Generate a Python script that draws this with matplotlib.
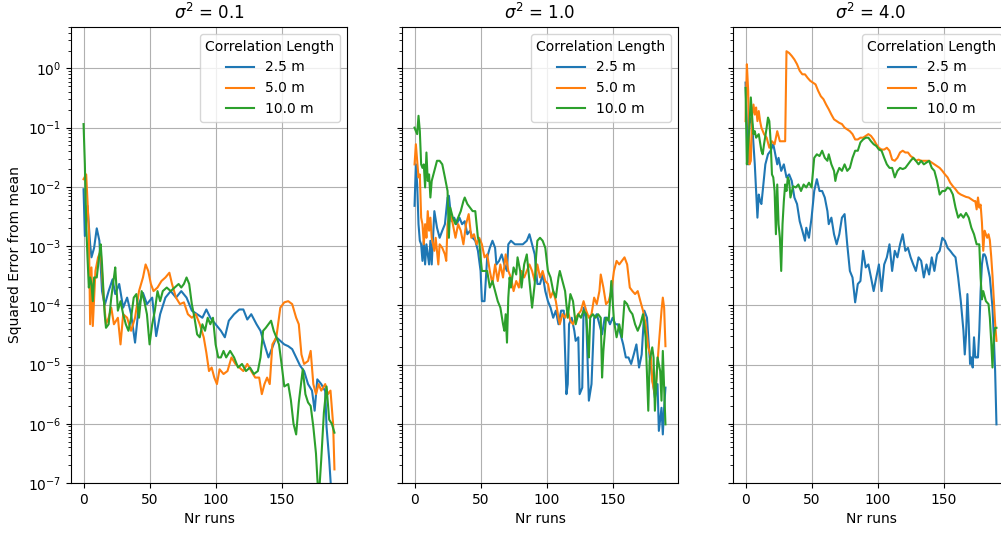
import numpy as np
import matplotlib
matplotlib.use("Agg")
import matplotlib.pyplot as plt
from matplotlib.ticker import LogLocator

# values, stored as log10(squared error)
variances = ["0.1", "1.0", "4.0"]
corr_lengths = ["2.5 m", "5.0 m", "10.0 m"]

# sigma^2 = 0.1
p1_blue_runs = [0, 1, 3, 5, 6, 8, 10, 12, 14, 16, 19, 22, 24, 27, 30, 33, 36, 39, 42, 45,
                48, 52, 55, 58, 62, 66, 70, 74, 78, 82, 86, 90, 93, 96, 100, 104, 107, 110, 114, 118,
                121, 124, 127, 131, 134, 137, 140, 143, 146, 149, 152, 155, 158, 161, 164, 167, 170, 173, 175, 177,
                180, 183, 184, 186, 188]
p1_blue_log = [-2.04, -2.83, -2.32, -2.97, -3.19, -3.03, -2.70, -2.91, -3.76, -4.0,
               -3.76, -3.56, -3.81, -3.64, -4.04, -3.87, -4.15, -4.63, -3.98, -3.79,
               -3.98, -3.87, -4.52, -4.15, -3.87, -3.76, -3.87, -3.76, -3.87, -4.09,
               -4.15, -4.21, -4.07, -4.21, -4.32, -4.43, -4.54, -4.26, -4.15, -4.07,
               -4.07, -4.24, -4.15, -4.32, -4.43, -4.66, -4.88, -4.71, -4.54, -4.60,
               -4.66, -4.69, -4.74, -4.88, -5.02, -5.11, -5.33, -5.44, -5.78, -5.25,
               -5.33, -5.45, -6.05, -6.6, -7.3]
p1_orange_runs = [0, 2, 3, 4, 5, 6, 7, 9, 11, 13, 15, 17, 19, 21, 23, 26, 28, 30, 33, 36,
                  39, 42, 45, 47, 49, 51, 53, 56, 59, 62, 65, 67, 70, 73, 76, 79, 82, 85, 88, 91,
                  93, 95, 97, 99, 101, 103, 106, 109, 112, 115, 118, 121, 124, 127, 130, 133, 135, 137, 139, 141,
                  143, 146, 149, 152, 155, 158, 161, 163, 165, 167, 170, 172, 174, 176, 178, 180, 183, 185, 187, 189,
                  190]
p1_orange_log = [-1.87, -1.79, -2.24, -2.74, -4.32, -3.36, -4.35, -3.42, -3.19, -3.08,
                 -3.81, -4.32, -4.21, -4.04, -4.32, -4.21, -4.66, -4.15, -4.21, -4.43,
                 -4.21, -3.76, -3.53, -3.31, -3.42, -3.64, -3.76, -3.70, -3.59, -3.53,
                 -3.45, -3.64, -3.87, -3.98, -3.95, -4.15, -4.21, -4.15, -4.32, -4.54,
                 -4.80, -5.11, -5.05, -5.22, -5.33, -5.08, -5.16, -5.11, -4.88, -4.99,
                 -5.05, -5.11, -4.99, -5.11, -5.22, -5.22, -5.50, -5.33, -5.22, -5.33,
                 -4.66, -4.54, -4.04, -3.95, -3.93, -3.98, -4.21, -4.32, -4.83, -4.99,
                 -4.94, -4.77, -5.33, -5.50, -5.33, -5.44, -5.33, -5.50, -5.44, -6.01,
                 -6.77]
p1_green_runs = [0, 1, 2, 3, 4, 5, 6, 7, 8, 10, 12, 13, 14, 16, 17, 19, 21, 23, 24, 26,
                 28, 30, 32, 34, 36, 38, 40, 42, 44, 46, 48, 50, 52, 54, 56, 58, 60, 63, 66, 69,
                 72, 74, 76, 78, 80, 82, 84, 86, 88, 90, 92, 94, 96, 98, 100, 102, 104, 106, 108, 111,
                 114, 117, 120, 123, 126, 129, 132, 134, 136, 138, 140, 142, 144, 146, 148, 150, 152, 155, 157, 159,
                 161, 163, 166, 168, 170, 172, 174, 176, 178, 180, 182, 184, 186, 188, 190]
p1_green_log = [-0.94, -1.62, -2.63, -3.19, -3.70, -3.53, -3.64, -3.93, -3.53, -3.53,
                -3.14, -2.97, -3.31, -4.15, -4.38, -4.32, -3.87, -3.53, -3.36, -4.09,
                -3.93, -4.15, -4.32, -4.43, -4.21, -3.87, -3.81, -4.21, -3.76, -3.93,
                -4.15, -4.66, -4.32, -4.09, -3.76, -3.93, -3.76, -3.70, -3.76, -3.70,
                -3.64, -3.70, -3.64, -3.53, -3.64, -3.98, -4.21, -4.49, -4.54, -4.32,
                -4.43, -4.21, -4.32, -4.21, -4.66, -4.88, -4.88, -4.77, -4.88, -4.77,
                -4.88, -5.05, -4.99, -5.11, -5.05, -5.16, -5.11, -4.88, -4.43, -4.38,
                -4.32, -4.26, -4.43, -4.54, -4.66, -5.0, -5.37, -5.33, -5.6, -6.0,
                -6.18, -5.64, -5.08, -5.5, -5.64, -5.7, -6.05, -6.5, -7.3, -6.6,
                -5.81, -5.37, -5.93, -6.0, -6.15]

# sigma^2 = 1.0
p2_blue_runs = [0, 1, 2, 3, 4, 5, 6, 7, 8, 9, 11, 12, 13, 15, 17, 19, 21, 23, 25, 26,
                28, 30, 32, 34, 36, 38, 40, 42, 44, 46, 48, 50, 51, 53, 55, 57, 59, 61, 62, 64,
                66, 68, 70, 71, 73, 76, 79, 82, 85, 87, 89, 91, 93, 95, 97, 99, 101, 103, 105, 107,
                109, 111, 113, 115, 116, 117, 119, 121, 122, 124, 125, 127, 128, 130, 132, 134, 136, 138, 140, 142,
                144, 146, 148, 150, 152, 154, 156, 158, 160, 162, 164, 166, 168, 170, 172, 174, 176, 178, 180, 182,
                184, 185, 187, 188, 189, 190]
p2_blue_log = [-2.32, -1.62, -1.96, -2.63, -2.91, -2.97, -3.25, -2.91, -3.31, -2.97,
               -3.31, -2.91, -3.31, -2.41, -2.69, -2.86, -2.74, -2.63, -2.18, -2.15,
               -2.58, -2.52, -2.63, -2.52, -2.63, -2.58, -2.80, -2.74, -2.86, -2.91,
               -3.08, -3.42, -3.93, -3.93, -3.19, -3.03, -2.91, -3.03, -3.31, -3.25,
               -3.14, -3.31, -3.42, -2.97, -2.91, -2.97, -2.97, -2.97, -2.91, -2.80,
               -2.97, -3.14, -3.64, -3.64, -3.48, -3.76, -3.93, -4.04, -4.21, -4.09,
               -4.32, -4.09, -4.09, -5.50, -5.33, -4.32, -4.21, -4.43, -4.60, -4.54,
               -5.50, -5.39, -4.04, -4.21, -5.61, -5.33, -4.21, -4.15, -4.32, -4.49,
               -4.21, -4.21, -4.32, -4.21, -4.32, -4.32, -4.49, -4.66, -4.88, -4.88,
               -4.99, -4.83, -4.66, -5.05, -4.83, -4.09, -4.21, -4.88, -5.22, -5.56,
               -5.33, -6.12, -5.73, -6.18, -5.73, -5.39]
p2_orange_runs = [0, 1, 2, 3, 4, 5, 6, 7, 8, 9, 10, 11, 12, 13, 15, 16, 18, 19, 21, 23,
                  24, 25, 27, 29, 31, 33, 35, 37, 39, 41, 43, 45, 47, 49, 51, 53, 55, 57, 59, 61,
                  63, 65, 67, 69, 71, 73, 75, 77, 79, 81, 83, 85, 87, 89, 91, 93, 95, 97, 99, 101,
                  103, 105, 107, 109, 110, 112, 114, 116, 118, 120, 122, 124, 126, 128, 130, 132, 134, 136, 138, 140,
                  141, 143, 145, 147, 149, 151, 153, 155, 157, 159, 161, 163, 165, 167, 169, 171, 173, 175, 177, 179,
                  180, 182, 183, 185, 187, 188, 189, 190]
p2_orange_log = [-1.62, -1.28, -1.56, -1.84, -1.79, -2.52, -2.63, -2.97, -2.63, -2.86,
                 -2.41, -2.74, -2.52, -2.86, -3.08, -2.86, -3.31, -2.97, -3.03, -3.14,
                 -3.25, -2.63, -2.41, -2.63, -2.86, -2.63, -2.74, -2.97, -2.63, -2.46,
                 -2.86, -2.80, -2.97, -2.86, -2.97, -3.19, -3.14, -3.42, -3.64, -3.31,
                 -3.59, -3.31, -3.53, -3.14, -3.42, -3.53, -3.76, -3.59, -3.70, -3.42,
                 -3.53, -3.42, -3.31, -3.42, -3.59, -3.31, -3.53, -3.42, -3.59, -3.64,
                 -3.87, -3.76, -3.93, -4.21, -4.32, -4.15, -4.21, -4.09, -4.26, -4.32,
                 -4.21, -4.15, -4.09, -3.93, -4.09, -4.21, -4.15, -3.87, -3.98, -3.76,
                 -3.48, -3.70, -3.98, -3.93, -3.76, -3.42, -3.25, -3.31, -3.25, -3.19,
                 -3.31, -3.70, -3.76, -3.81, -3.76, -3.93, -4.09, -4.32, -4.71, -4.88,
                 -5.28, -5.50, -5.28, -4.66, -4.09, -3.87, -4.04, -4.69]
p2_green_runs = [0, 1, 2, 3, 4, 5, 6, 7, 8, 9, 10, 11, 12, 13, 15, 17, 19, 21, 23, 25,
                 26, 27, 29, 31, 33, 35, 37, 38, 40, 42, 44, 46, 48, 49, 50, 51, 53, 55, 57, 59,
                 61, 63, 65, 67, 68, 69, 70, 71, 72, 73, 75, 77, 78, 80, 81, 83, 85, 87, 89, 91,
                 92, 93, 95, 97, 99, 101, 103, 105, 107, 109, 110, 112, 114, 116, 118, 120, 122, 124, 126, 128,
                 130, 131, 132, 133, 135, 137, 139, 141, 142, 143, 145, 147, 149, 151, 153, 155, 157, 159, 161, 163,
                 165, 167, 169, 171, 173, 175, 177, 178, 180, 181, 182, 184, 186, 187, 188, 189, 190]
p2_green_log = [-1.00, -1.06, -1.11, -0.80, -1.06, -1.62, -1.68, -1.62, -2.01, -1.42,
                -1.90, -1.79, -2.18, -1.90, -1.73, -1.56, -1.56, -1.62, -1.84, -2.07,
                -2.86, -2.35, -2.52, -2.63, -2.52, -2.41, -2.24, -2.18, -2.29, -2.35,
                -2.41, -2.41, -2.86, -2.91, -3.19, -3.42, -3.42, -3.42, -3.70, -3.59,
                -3.76, -3.93, -4.04, -4.32, -4.43, -4.15, -4.63, -3.87, -3.53, -3.70,
                -3.36, -3.48, -3.19, -3.42, -3.70, -3.31, -3.14, -3.59, -4.04, -3.64,
                -3.19, -2.91, -2.86, -2.91, -3.03, -3.42, -3.53, -3.76, -3.87, -3.53,
                -3.42, -3.59, -3.76, -4.21, -3.81, -3.93, -4.32, -4.15, -4.21, -4.09,
                -4.15, -4.54, -4.88, -4.21, -4.15, -4.21, -4.15, -4.21, -5.22, -4.77,
                -4.21, -4.26, -3.59, -4.26, -4.54, -4.32, -4.54, -3.93, -3.98, -4.09,
                -4.15, -4.32, -4.43, -4.32, -4.15, -4.54, -5.78, -4.94, -4.71, -4.88,
                -5.78, -4.88, -5.11, -5.61, -4.77, -5.39, -6.01]

# sigma^2 = 4.0
p3_blue_runs = [0, 1, 2, 3, 5, 6, 7, 8, 9, 10, 11, 12, 13, 15, 17, 19, 21, 22, 24, 25,
                27, 29, 31, 33, 35, 37, 39, 41, 43, 45, 46, 48, 50, 52, 54, 56, 58, 60, 62, 63,
                65, 67, 69, 71, 73, 75, 77, 79, 81, 83, 85, 87, 89, 91, 93, 95, 97, 99, 101, 103,
                105, 107, 109, 111, 113, 115, 117, 119, 121, 123, 125, 127, 129, 131, 133, 135, 137, 139, 141, 143,
                145, 147, 149, 151, 153, 155, 157, 159, 161, 163, 165, 166, 167, 168, 169, 170, 171, 172, 173, 174,
                175, 176, 177, 178, 179, 180, 181, 182, 183, 185, 187, 188, 189, 190]
p3_blue_log = [-0.24, -0.94, -1.62, -0.83, -0.94, -1.28, -1.62, -2.07, -2.52, -2.13,
               -2.24, -2.29, -2.07, -1.62, -1.45, -1.39, -1.28, -1.39, -1.62, -1.51,
               -1.73, -1.62, -1.84, -1.79, -1.90, -2.18, -2.29, -2.58, -2.74, -2.91,
               -2.69, -2.86, -2.52, -2.07, -1.87, -2.07, -2.07, -2.18, -2.41, -2.63,
               -2.52, -2.80, -2.97, -2.80, -2.52, -2.46, -2.97, -3.42, -3.53, -3.95,
               -3.64, -3.59, -3.08, -3.36, -3.31, -3.53, -3.76, -3.53, -3.31, -3.76,
               -3.31, -3.19, -2.97, -3.42, -3.08, -3.19, -2.97, -2.80, -3.08, -3.03,
               -3.19, -3.31, -3.42, -3.19, -3.25, -3.53, -3.31, -3.48, -3.19, -3.42,
               -3.14, -3.08, -2.86, -2.91, -3.03, -3.08, -3.14, -3.19, -3.53, -3.93,
               -4.43, -4.83, -4.49, -3.81, -4.32, -4.99, -4.88, -5.05, -4.54, -4.88,
               -4.88, -4.88, -4.43, -3.76, -3.31, -3.14, -3.14, -3.19, -3.31, -3.53,
               -4.04, -4.54, -5.11, -6.01]
p3_orange_runs = [0, 1, 2, 3, 4, 5, 6, 7, 8, 9, 10, 11, 12, 14, 16, 18, 20, 22, 24, 26,
                  28, 30, 31, 33, 35, 37, 39, 41, 43, 45, 47, 49, 51, 53, 55, 57, 59, 61, 63, 65,
                  67, 69, 71, 73, 75, 77, 79, 81, 83, 85, 87, 89, 91, 93, 95, 97, 99, 101, 103, 105,
                  107, 109, 111, 113, 115, 117, 119, 121, 123, 125, 127, 129, 131, 133, 135, 137, 139, 141, 143, 145,
                  147, 149, 151, 153, 155, 157, 159, 161, 163, 165, 167, 169, 171, 173, 174, 175, 176, 177, 178, 179,
                  180, 181, 182, 183, 184, 185, 186, 187, 188, 189, 190]
p3_orange_log = [-0.89, 0.07, -0.38, -1.62, -1.56, -0.78, -0.61, -0.78, -0.66, -0.89,
                 -0.72, -0.89, -1.00, -1.11, -1.17, -1.34, -1.23, -1.28, -1.06, -1.23,
                 -1.23, -1.23, 0.29, 0.26, 0.21, 0.15, 0.07, -0.04, -0.10, -0.10,
                 -0.16, -0.21, -0.24, -0.27, -0.38, -0.47, -0.52, -0.61, -0.69, -0.78,
                 -0.86, -0.89, -0.92, -0.94, -1.00, -1.03, -1.06, -1.11, -1.20, -1.20,
                 -1.17, -1.17, -1.14, -1.11, -1.14, -1.20, -1.28, -1.34, -1.37, -1.37,
                 -1.34, -1.39, -1.54, -1.56, -1.51, -1.42, -1.39, -1.42, -1.42, -1.48,
                 -1.51, -1.56, -1.54, -1.56, -1.56, -1.56, -1.56, -1.59, -1.62, -1.65,
                 -1.68, -1.73, -1.79, -1.84, -1.93, -1.99, -2.04, -2.10, -2.13, -2.15,
                 -2.17, -2.18, -2.21, -2.24, -2.24, -2.38, -2.18, -2.35, -2.30, -2.60,
                 -3.08, -2.74, -2.80, -2.86, -2.80, -2.90, -3.17, -3.50, -3.90, -4.30,
                 -4.60]
p3_green_runs = [0, 1, 2, 3, 4, 5, 6, 7, 8, 10, 12, 13, 14, 16, 17, 18, 19, 20, 21, 22,
                 23, 24, 25, 26, 27, 28, 29, 30, 31, 32, 33, 34, 36, 38, 40, 42, 44, 46, 48, 50,
                 52, 54, 56, 58, 60, 62, 63, 65, 67, 68, 69, 71, 73, 75, 77, 79, 81, 83, 85, 87,
                 89, 91, 93, 95, 97, 99, 101, 103, 105, 107, 109, 111, 113, 115, 117, 119, 121, 123, 125, 127,
                 129, 131, 133, 135, 137, 139, 141, 143, 145, 147, 149, 151, 153, 155, 157, 159, 161, 163, 165, 167,
                 169, 171, 173, 175, 177, 178, 179, 180, 182, 184, 185, 186, 187, 188, 189, 190]
p3_green_log = [-0.33, -1.62, -1.28, -0.94, -0.49, -0.83, -1.11, -1.06, -1.17, -1.11,
                -1.39, -1.45, -1.28, -1.00, -0.83, -0.89, -1.23, -1.79, -1.84, -2.07,
                -2.80, -1.96, -2.63, -2.86, -3.42, -2.63, -2.24, -1.96, -2.07, -1.84,
                -1.90, -2.18, -1.99, -2.01, -1.96, -2.07, -1.96, -2.01, -1.93, -2.01,
                -1.51, -1.45, -1.48, -1.39, -1.51, -1.56, -1.45, -1.62, -1.73, -1.90,
                -1.79, -1.68, -1.73, -1.62, -1.73, -1.68, -1.51, -1.39, -1.39, -1.25,
                -1.20, -1.17, -1.17, -1.23, -1.28, -1.31, -1.37, -1.39, -1.51, -1.62,
                -1.68, -1.68, -1.84, -1.73, -1.68, -1.70, -1.68, -1.62, -1.56, -1.51,
                -1.56, -1.62, -1.56, -1.62, -1.59, -1.56, -1.68, -1.73, -1.90, -2.13,
                -2.07, -2.07, -2.01, -2.04, -2.13, -2.35, -2.52, -2.46, -2.52, -2.44,
                -2.52, -2.69, -2.80, -2.97, -2.97, -3.53, -3.90, -3.76, -3.93, -3.98,
                -4.21, -4.60, -5.05, -4.54, -4.38, -4.38]

panels = [
    [(p1_blue_runs, p1_blue_log), (p1_orange_runs, p1_orange_log), (p1_green_runs, p1_green_log)],
    [(p2_blue_runs, p2_blue_log), (p2_orange_runs, p2_orange_log), (p2_green_runs, p2_green_log)],
    [(p3_blue_runs, p3_blue_log), (p3_orange_runs, p3_orange_log), (p3_green_runs, p3_green_log)],
]

fig = plt.figure(figsize=(10.01, 5.33), dpi=100)
lefts = [71 / 1001, 402 / 1001, 733 / 1001]
width = 276 / 1001
bottom = 50 / 533
height = 456 / 533

axes = []
for i, left in enumerate(lefts):
    if i == 0:
        ax = fig.add_axes([left, bottom, width, height])
    else:
        ax = fig.add_axes([left, bottom, width, height], sharey=axes[0])
    axes.append(ax)

for i, ax in enumerate(axes):
    for (runs, logs), label in zip(panels[i], corr_lengths):
        ax.plot(runs, 10.0 ** np.array(logs), label=label)
    ax.set_yscale("log")
    ax.set_ylim(1e-7, 5)
    ax.yaxis.set_major_locator(LogLocator(base=10, numticks=15))
    ax.set_title(r"$\sigma^2$ = " + variances[i])
    ax.set_xlabel("Nr runs")
    ax.grid(True)
    ax.legend(title="Correlation Length", loc="upper right")
    if i > 0:
        ax.tick_params(labelleft=False)

axes[0].set_ylabel("Squared Error from mean")

fig.savefig("out.png", dpi=100)
